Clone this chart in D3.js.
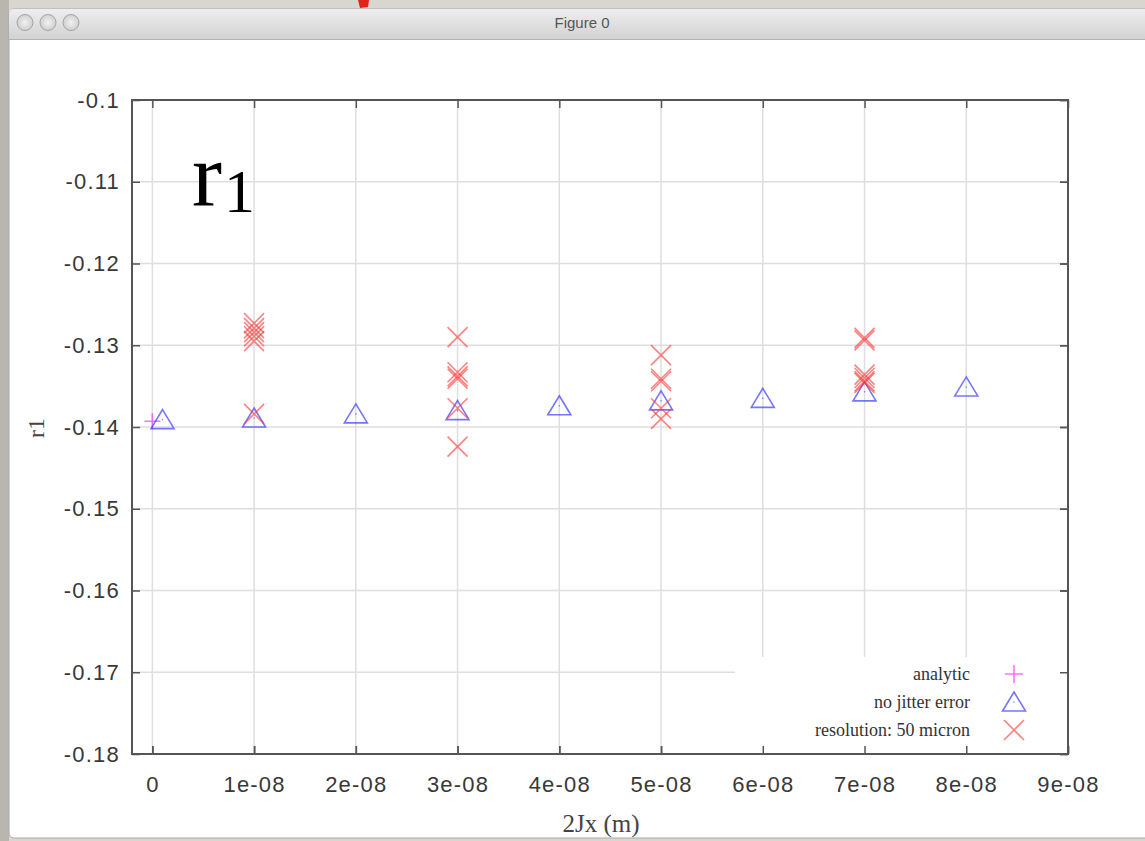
<!DOCTYPE html>
<html>
<head>
<meta charset="utf-8">
<script src="https://cdn.jsdelivr.net/npm/d3@7/dist/d3.min.js"></script>
<style>
  html, body { margin: 0; padding: 0; background: #cbc8c1; }
  svg { display: block; }
</style>
</head>
<body>
<svg id="chart" width="1145" height="841"></svg>
<script>
// ---- data -------------------------------------------------------------
const xTickValues = [0, 1e-8, 2e-8, 3e-8, 4e-8, 5e-8, 6e-8, 7e-8, 8e-8, 9e-8];
const xTickLabels = ["0", "1e-08", "2e-08", "3e-08", "4e-08", "5e-08", "6e-08", "7e-08", "8e-08", "9e-08"];
const yTickValues = [-0.1, -0.11, -0.12, -0.13, -0.14, -0.15, -0.16, -0.17, -0.18];
const yTickLabels = ["-0.1", "-0.11", "-0.12", "-0.13", "-0.14", "-0.15", "-0.16", "-0.17", "-0.18"];

// analytic value
const analyticX = [0];
const analyticY = [-0.1393];

// fit without jitter error
const noJitterX = [1e-9, 1e-8, 2e-8, 3e-8, 4e-8, 5e-8, 6e-8, 7e-8, 8e-8];
const noJitterY = [-0.1391, -0.1389, -0.1384, -0.1380, -0.1374, -0.1368, -0.1365, -0.1357, -0.1351];

// fits with 50 micron BPM resolution
const resolutionX = [
  1e-8, 1e-8, 1e-8, 1e-8, 1e-8, 1e-8,
  3e-8, 3e-8, 3e-8, 3e-8, 3e-8, 3e-8,
  5e-8, 5e-8, 5e-8, 5e-8, 5e-8,
  7e-8, 7e-8, 7e-8, 7e-8, 7e-8, 7e-8
];
const resolutionY = [
  -0.1273, -0.1279, -0.1284, -0.1289, -0.1295, -0.1384,
  -0.1290, -0.1333, -0.1338, -0.1341, -0.1377, -0.1424,
  -0.1312, -0.1341, -0.1344, -0.1377, -0.1390,
  -0.1291, -0.1294, -0.1336, -0.1340, -0.1344, -0.1346
];

const legendLabels = ["analytic", "no jitter error", "resolution: 50 micron"];

// ---- layout -----------------------------------------------------------
const svg = d3.select("#chart");
const W = 1145, H = 841;
const plot = { left: 132, right: 1068, top: 100, bottom: 754 };

const x = d3.scaleLinear().domain([-0.2e-8, 9e-8]).range([plot.left, plot.right]);
const y = d3.scaleLinear().domain([-0.18, -0.1]).range([plot.bottom, plot.top]);

// ---- window chrome ----------------------------------------------------
const defs = svg.append("defs");
const tg = defs.append("linearGradient").attr("id", "titlebar").attr("x1", 0).attr("y1", 0).attr("x2", 0).attr("y2", 1);
tg.append("stop").attr("offset", "0%").attr("stop-color", "#eeeeee");
tg.append("stop").attr("offset", "100%").attr("stop-color", "#d2d2d2");
const bg = defs.append("radialGradient").attr("id", "btn");
bg.append("stop").attr("offset", "0%").attr("stop-color", "#f2f2f2");
bg.append("stop").attr("offset", "100%").attr("stop-color", "#cfcfcf");

svg.append("rect").attr("width", W).attr("height", H).attr("fill", "#d9d6d0");
svg.append("rect").attr("x", 0).attr("y", 0).attr("width", 9).attr("height", H).attr("fill", "#b9b6af");
// red fragment peeking above the window
svg.append("path").attr("d", "M358,0 L369,0 L368,7 L360,8 Z").attr("fill", "#e0231b");

svg.append("rect").attr("x", 9).attr("y", 9).attr("width", W).attr("height", 829)
  .attr("rx", 5).attr("fill", "#ffffff").attr("stroke", "#a9a9a9");
svg.append("path")
  .attr("d", `M9,39 L9,14 Q9,9 14,9 L${W},9 L${W},39 Z`)
  .attr("fill", "url(#titlebar)");
svg.append("line").attr("x1", 9).attr("x2", W).attr("y1", 39.5).attr("y2", 39.5)
  .attr("stroke", "#b3b3b3");
[25, 48, 71].forEach(cx => {
  svg.append("circle").attr("cx", cx).attr("cy", 22.5).attr("r", 8)
    .attr("fill", "url(#btn)").attr("stroke", "#a5a5a5").attr("stroke-width", 1);
});
svg.append("text").attr("x", 582).attr("y", 28).attr("text-anchor", "middle")
  .attr("font-family", "'Liberation Sans', Arial, sans-serif").attr("font-size", 15)
  .attr("fill", "#555").text("Figure 0");

// ---- grid -------------------------------------------------------------
const grid = svg.append("g").attr("stroke", "#dedede").attr("stroke-width", 1.5);
xTickValues.forEach(v => {
  grid.append("line").attr("x1", x(v)).attr("x2", x(v)).attr("y1", plot.top).attr("y2", plot.bottom);
});
yTickValues.forEach(v => {
  grid.append("line").attr("x1", plot.left).attr("x2", plot.right).attr("y1", y(v)).attr("y2", y(v));
});

// ---- axes -------------------------------------------------------------
const tickFont = "'Liberation Sans', Arial, Helvetica, sans-serif";
function styleAxis(g, showText) {
  g.select(".domain").remove();
  g.selectAll(".tick line").attr("stroke", "#555").attr("stroke-width", 1.5);
  g.selectAll(".tick text")
    .attr("font-family", tickFont).attr("font-size", 22).attr("fill", "#383838")
    .attr("letter-spacing", 1.2)
    .style("display", showText ? null : "none");
}
const xAxisB = d3.axisBottom(x).tickValues(xTickValues).tickFormat((d, i) => xTickLabels[i])
  .tickSizeInner(-8).tickSizeOuter(0).tickPadding(22);
const xAxisT = d3.axisTop(x).tickValues(xTickValues).tickFormat("").tickSizeInner(-8).tickSizeOuter(0);
const yAxisL = d3.axisLeft(y).tickValues(yTickValues).tickFormat((d, i) => yTickLabels[i])
  .tickSizeInner(-8).tickSizeOuter(0).tickPadding(12);
const yAxisR = d3.axisRight(y).tickValues(yTickValues).tickFormat("").tickSizeInner(-8).tickSizeOuter(0);

svg.append("g").attr("transform", `translate(0,${plot.bottom})`).call(xAxisB).call(g => styleAxis(g, true));
svg.append("g").attr("transform", `translate(0,${plot.top})`).call(xAxisT).call(g => styleAxis(g, false));
svg.append("g").attr("transform", `translate(${plot.left},0)`).call(yAxisL).call(g => styleAxis(g, true));
svg.append("g").attr("transform", `translate(${plot.right},0)`).call(yAxisR).call(g => styleAxis(g, false));

svg.append("rect").attr("x", plot.left).attr("y", plot.top)
  .attr("width", plot.right - plot.left).attr("height", plot.bottom - plot.top)
  .attr("fill", "none").attr("stroke", "#555").attr("stroke-width", 2);

// axis titles
const serif = "'Liberation Serif', 'Times New Roman', Times, serif";
svg.append("text").attr("x", 601).attr("y", 832).attr("text-anchor", "middle")
  .attr("font-family", serif).attr("font-size", 25).attr("fill", "#444").text("2Jx (m)");
svg.append("text").attr("transform", "translate(44,428) rotate(-90)").attr("text-anchor", "middle")
  .attr("font-family", serif).attr("font-size", 24).attr("fill", "#444").text("r1");

// big annotation
const ann = svg.append("text").attr("x", 192).attr("y", 206)
  .attr("font-family", serif).attr("fill", "#000");
ann.append("tspan").attr("font-size", 90).text("r");
ann.append("tspan").attr("font-size", 62).attr("dx", 2).attr("dy", 6).text("1");

// ---- point symbols ----------------------------------------------------
const RED = "#ff3030", BLUE = "#3a3aff", MAG = "#ff40ff";
function drawPlus(g, cx, cy, s) {
  g.append("path").attr("d", `M${cx - s},${cy} L${cx + s},${cy} M${cx},${cy - s} L${cx},${cy + s}`)
    .attr("stroke", MAG).attr("stroke-width", 1.6).attr("fill", "none").attr("opacity", 0.75);
}
function drawTri(g, cx, cy) {
  g.append("path").attr("d", `M${cx},${cy - 10} L${cx + 11.5},${cy + 9} L${cx - 11.5},${cy + 9} Z`)
    .attr("stroke", BLUE).attr("stroke-width", 1.6).attr("fill", "none").attr("opacity", 0.7);
  g.append("circle").attr("cx", cx).attr("cy", cy).attr("r", 0.8).attr("fill", BLUE).attr("opacity", 0.6);
}
function drawCross(g, cx, cy, s) {
  g.append("path").attr("d", `M${cx - s},${cy - s} L${cx + s},${cy + s} M${cx - s},${cy + s} L${cx + s},${cy - s}`)
    .attr("stroke", RED).attr("stroke-width", 1.6).attr("fill", "none").attr("opacity", 0.6);
}

const marks = svg.append("g");
analyticX.forEach((v, i) => drawPlus(marks, x(v), y(analyticY[i]), 8));
noJitterX.forEach((v, i) => drawTri(marks, x(v), y(noJitterY[i])));
resolutionX.forEach((v, i) => drawCross(marks, x(v), y(resolutionY[i]), 10));

// ---- legend -----------------------------------------------------------
const leg = svg.append("g");
leg.append("rect").attr("x", 735).attr("y", 657).attr("width", plot.right - 736).attr("height", plot.bottom - 658)
  .attr("fill", "#fff");
const rowY = [674, 702, 730];
legendLabels.forEach((t, i) => {
  leg.append("text").attr("x", 970).attr("y", rowY[i] + 6).attr("text-anchor", "end")
    .attr("font-family", serif).attr("font-size", 18).attr("fill", "#333").text(t);
});
drawPlus(leg, 1014, rowY[0], 9);
drawTri(leg, 1014, rowY[1]);
drawCross(leg, 1014, rowY[2], 10);
// redraw frame ticks over the legend box
svg.append("g").attr("transform", `translate(${plot.right},0)`).call(yAxisR).call(g => styleAxis(g, false));
svg.append("g").attr("transform", `translate(0,${plot.bottom})`)
  .call(d3.axisBottom(x).tickValues(xTickValues).tickFormat("").tickSizeInner(-8).tickSizeOuter(0))
  .call(g => styleAxis(g, false));
svg.append("line").attr("x1", plot.right).attr("x2", plot.right).attr("y1", plot.top).attr("y2", plot.bottom)
  .attr("stroke", "#555").attr("stroke-width", 2);
svg.append("line").attr("x1", plot.left).attr("x2", plot.right).attr("y1", plot.bottom).attr("y2", plot.bottom)
  .attr("stroke", "#555").attr("stroke-width", 2);
</script>
</body>
</html>
